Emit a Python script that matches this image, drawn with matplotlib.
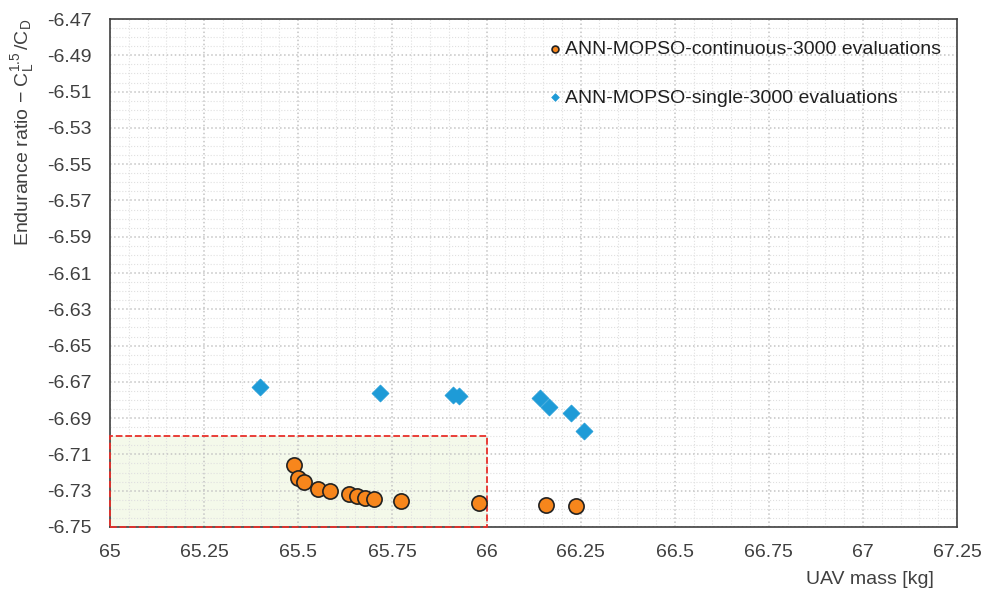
import numpy as np
import matplotlib.pyplot as plt
from matplotlib.patches import Rectangle
from matplotlib.ticker import MultipleLocator, FixedLocator, FormatStrFormatter

# ANN-MOPSO continuous, 3000 evaluations
cont_mass = [65.488, 65.500, 65.515, 65.552, 65.584, 65.636, 65.655, 65.678, 65.700, 65.774, 65.979, 66.158, 66.237]
cont_ratio = [-6.7158, -6.7228, -6.7250, -6.7292, -6.7302, -6.7320, -6.7329, -6.7338, -6.7347, -6.7357, -6.7366, -6.7379, -6.7384]

# ANN-MOPSO single, 3000 evaluations
single_mass = [65.398, 65.716, 65.911, 65.926, 66.143, 66.165, 66.225, 66.260]
single_ratio = [-6.6727, -6.6763, -6.6772, -6.6778, -6.6787, -6.6837, -6.6870, -6.6971]

y_ticks = np.arange(-6.75, -6.469, 0.02)

plt.rcParams['font.family'] = ['Liberation Sans', 'DejaVu Sans']
plt.rcParams['mathtext.fontset'] = 'custom'
plt.rcParams['mathtext.rm'] = 'Liberation Sans'
plt.rcParams['mathtext.it'] = 'Liberation Sans'

fig = plt.figure(figsize=(9.85, 5.94), dpi=100)
ax = fig.add_axes([0.1117, 0.1128, 0.8600, 0.8552])

ax.set_xlim(65, 67.25)
ax.set_ylim(-6.75, -6.47)
ax.xaxis.set_major_locator(MultipleLocator(0.25))
ax.xaxis.set_minor_locator(MultipleLocator(0.05))
ax.yaxis.set_major_locator(FixedLocator(y_ticks))
ax.yaxis.set_minor_locator(FixedLocator(np.arange(-6.75, -6.469, 0.005)))
ax.xaxis.set_major_formatter(FormatStrFormatter('%g'))
ax.yaxis.set_major_formatter(FormatStrFormatter('%.2f'))
ax.grid(which='major', color='#c4c4c4', linestyle=':', linewidth=1.1)
ax.grid(which='minor', color='#e0e0e0', linestyle=':', linewidth=0.8)
ax.set_axisbelow(True)
ax.tick_params(which='both', length=0, labelsize=14, colors='#404040')
ax.tick_params(axis='y', pad=13)
ax.tick_params(axis='x', pad=12)

for s in ax.spines.values():
    s.set_color('#404040')
    s.set_linewidth(1.2)

# highlighted region: fill under the grid, dashed red edge on top of the spines
ax.add_patch(Rectangle((65, -6.75), 1.0, 0.05, facecolor='#f4f9ea', edgecolor='none', zorder=0.4))
ax.add_patch(Rectangle((65, -6.75), 1.0, 0.05, facecolor='none', edgecolor='#e8302a',
                       linestyle='--', linewidth=1.3, zorder=2.6, clip_on=False))

ax.scatter(cont_mass, cont_ratio, s=120, c='#f7861c', edgecolors='#222222', linewidths=1.2,
           zorder=3, label='ANN-MOPSO-continuous-3000 evaluations')
ax.scatter(single_mass, single_ratio, s=75, marker='D', c='#1e9bd7', edgecolors='#1e9bd7',
           linewidths=0.5, zorder=3, label='ANN-MOPSO-single-3000 evaluations')

leg = ax.legend(loc='upper left', bbox_to_anchor=(0.5, 0.985), frameon=False, fontsize=14,
                markerscale=0.45, handlelength=0.8, handletextpad=0.1, labelspacing=1.6,
                borderaxespad=0.3)
for t in leg.get_texts():
    t.set_color('#202020')

ax.set_xlabel('UAV mass [kg]', fontsize=14, color='#404040', va='center')
ax.xaxis.set_label_coords(0.897, -0.104)
ax.set_ylabel(r'Endurance ratio $-\ \mathrm{C_L^{1.5}}\,/\mathrm{C_D}$', loc='top', fontsize=14,
              color='#404040', labelpad=8)

plt.savefig('out.png', dpi=100)
